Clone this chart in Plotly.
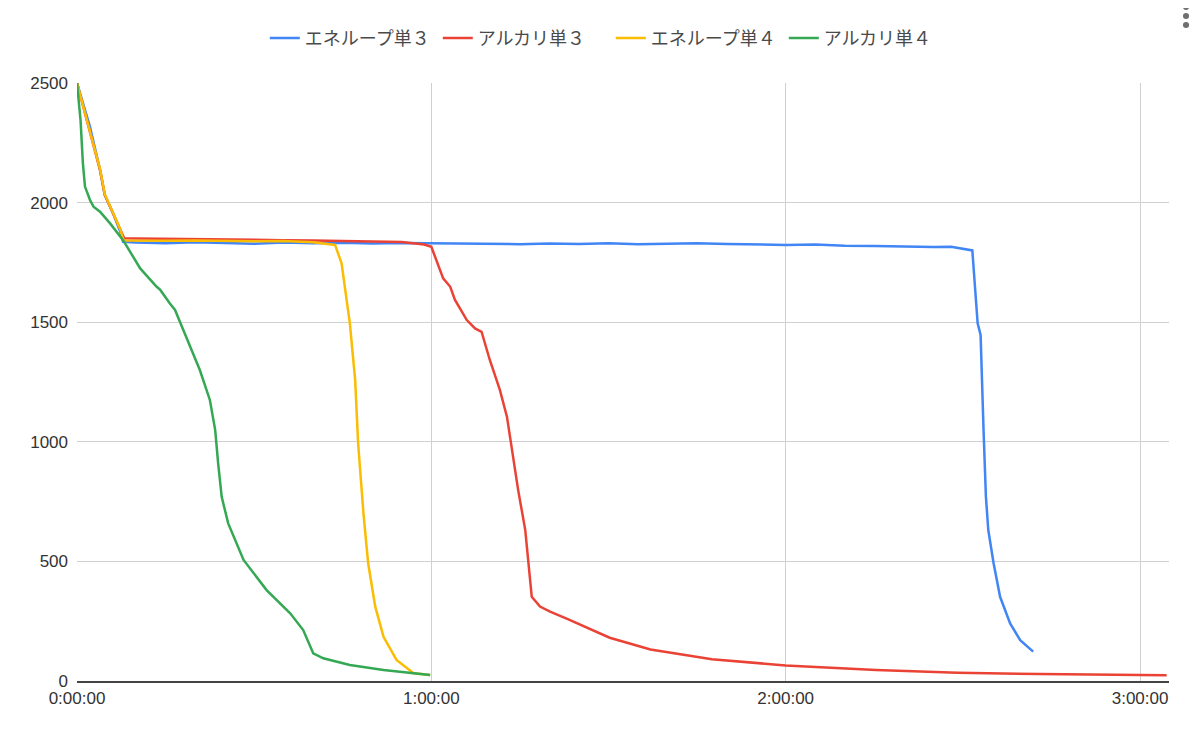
import plotly.graph_objects as go

# time in minutes from start, voltage in mV
eneloop3_t = [0, 2.2, 3.9, 4.7, 6.1, 7.3, 7.8, 10, 15, 20, 25, 30, 35, 40, 45, 50, 55, 60,
              65, 70, 75, 80, 85, 90, 95, 100, 105, 110, 115, 120, 125, 130, 135, 140, 145,
              148, 150, 151.6, 152.5, 153.0, 153.5, 153.9, 154.3, 155.2, 156.3, 158.0,
              159.7, 161.9]
eneloop3_v = [2500, 2317, 2136, 2032, 1955, 1880, 1836, 1833, 1830, 1834, 1831, 1828, 1833,
              1830, 1832, 1829, 1831, 1830, 1829, 1830, 1826, 1829, 1827, 1830, 1826, 1828,
              1830, 1827, 1825, 1823, 1825, 1820, 1819, 1816, 1814, 1815, 1808, 1800, 1495,
              1447, 1049, 770, 631, 492, 352, 241, 171, 123]

alkali3_t = [0, 2.0, 3.9, 4.7, 6.1, 7.3, 8.0, 10, 15, 20, 25, 30, 35, 40, 45, 50, 55, 58.8,
             60.0, 62.0, 63.2, 64.0, 66.0, 67.4, 68.5, 69.9, 71.6, 72.8, 73.6, 74.7, 75.9,
             76.4, 77.0, 78.4, 80.1, 83.2, 86.3, 90.2, 97.1, 107.5, 120, 135.3, 149.1, 163,
             180, 184.5]
alkali3_v = [2500, 2317, 2136, 2032, 1955, 1885, 1851, 1850, 1848, 1849, 1846, 1845, 1843,
             1842, 1840, 1838, 1835, 1825, 1815, 1683, 1648, 1593, 1509, 1474, 1460, 1342,
             1217, 1105, 979, 798, 631, 492, 352, 311, 290, 258, 225, 181, 132, 91, 65, 46,
             35, 29, 25, 24]

eneloop4_t = [0, 2.0, 3.9, 4.7, 6.1, 7.3, 7.9, 10, 15, 20, 25, 30, 35, 40, 43.7, 44.8, 46.2,
              47.1, 47.6, 48.5, 49.3, 50.5, 51.9, 54.1, 57.0, 59.8]
eneloop4_v = [2500, 2320, 2140, 2035, 1960, 1890, 1842, 1841, 1840, 1842, 1839, 1838, 1839,
              1834, 1823, 1746, 1495, 1258, 994, 701, 492, 311, 185, 88, 32, 25]

alkali4_t = [0, 0.6, 1.0, 1.35, 2.2, 2.8, 3.9, 5.6, 7.8, 10.7, 13.5, 14.1, 15.7, 16.6, 18.0,
             20.8, 22.5, 23.4, 23.9, 24.5, 25.6, 28.2, 32.1, 36.1, 38.3, 39.2, 40.0, 41.7,
             46.2, 51.9, 59.8]
alkali4_v = [2500, 2345, 2164, 2067, 2011, 1983, 1962, 1913, 1843, 1725, 1648, 1635, 1579,
             1551, 1467, 1300, 1175, 1049, 910, 770, 659, 506, 380, 283, 213, 158, 116, 95,
             67, 46, 25]

series = [
    ('エネループ単３', eneloop3_t, eneloop3_v, '#4285F4'),
    ('アルカリ単３', alkali3_t, alkali3_v, '#EA4335'),
    ('エネループ単４', eneloop4_t, eneloop4_v, '#FBBC04'),
    ('アルカリ単４', alkali4_t, alkali4_v, '#34A853'),
]

x_ticks = [0, 60, 120, 180]
x_labels = ['0:00:00', '1:00:00', '2:00:00', '3:00:00']
y_ticks = [0, 500, 1000, 1500, 2000, 2500]

font_family = 'Arial, Liberation Sans, Noto Sans CJK JP'

fig = go.Figure()
for name, t, v, color in series:
    fig.add_trace(go.Scatter(x=t, y=v, name=name, mode='lines',
                             line=dict(color=color, width=2.5)))

# page body adds 8px, so margins are shifted to land the plot where the original is
fig.update_layout(
    width=1200, height=737,
    margin=dict(l=69, r=39, t=75, b=64),
    paper_bgcolor='white', plot_bgcolor='white',
    font=dict(family=font_family, size=17, color='#333333'),
    legend=dict(orientation='h', xref='container', x=0.214, xanchor='left',
                yref='container', y=0.959, yanchor='middle',
                font=dict(size=18, color='#4a4a4a'), itemwidth=30,
                entrywidth=128),
    showlegend=True,
)
fig.update_xaxes(range=[0, 184.9], tickmode='array', tickvals=x_ticks, ticktext=x_labels,
                 showgrid=True, gridcolor='#d0d0d0', gridwidth=1,
                 showline=True, linecolor='#444444', linewidth=1.5,
                 zeroline=False, ticks='', ticklabelstandoff=1)
fig.update_yaxes(range=[0, 2500], tickmode='array', tickvals=y_ticks, tickformat='d',
                 showgrid=True, gridcolor='#d0d0d0', gridwidth=1,
                 zeroline=False, showline=False, ticks='', ticklabelstandoff=8)

# three-dot menu icon in the top right corner
for dot_y in [1.1271, 1.1120, 1.0970]:
    fig.add_shape(type='circle', xref='paper', yref='paper',
                  x0=1.0156 - 0.0028, x1=1.0156 + 0.0028,
                  y0=dot_y - 0.005, y1=dot_y + 0.005,
                  fillcolor='#6f6f6f', line=dict(width=0))

fig.write_html("out.html")
